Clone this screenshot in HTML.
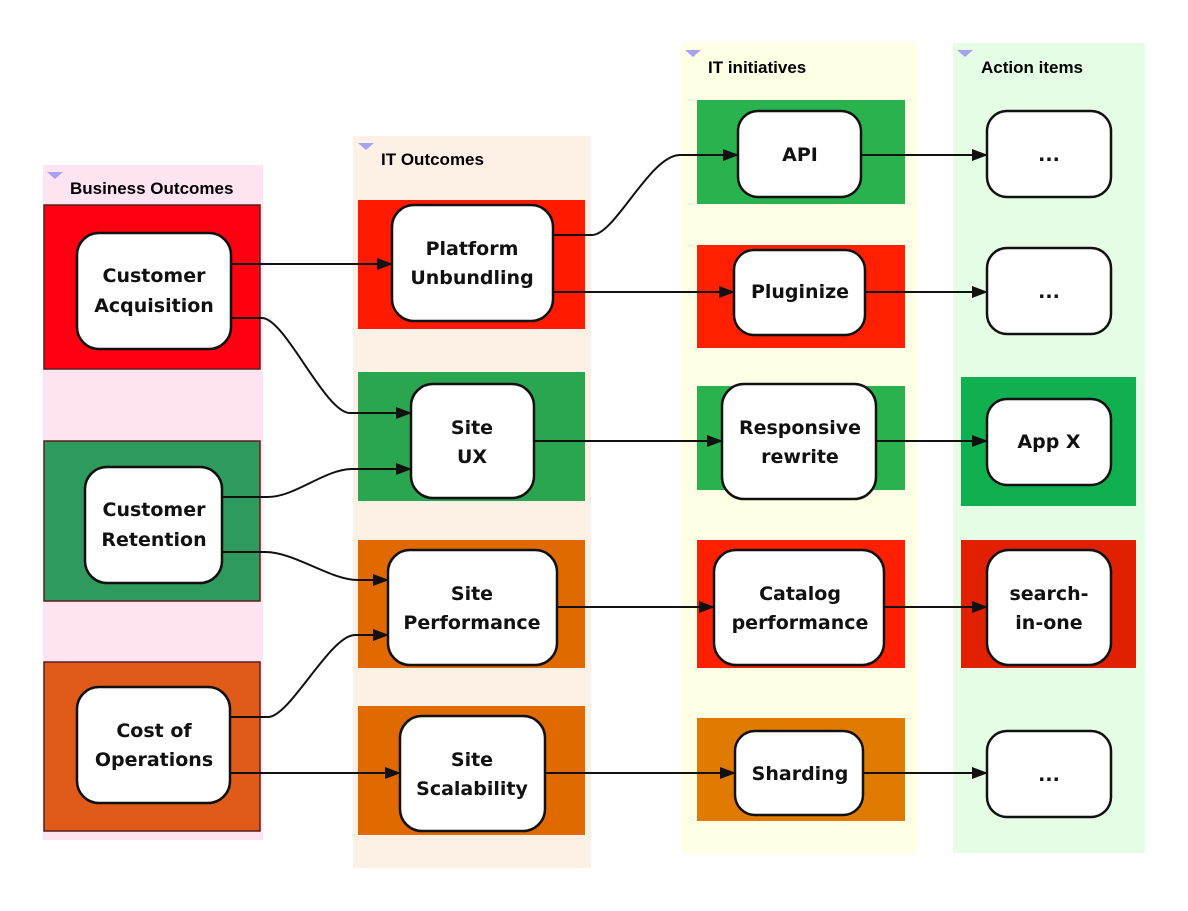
<!DOCTYPE html>
<html><head><meta charset="utf-8"><style>
html,body{margin:0;padding:0;background:#fff;}
svg{display:block;}
.t{font-family:"DejaVu Sans","Liberation Sans",sans-serif;font-weight:bold;font-size:19px;fill:#111;text-anchor:middle;}
.h{font-family:"Liberation Sans",sans-serif;font-weight:bold;font-size:17px;fill:#000;}
.n{fill:#fff;stroke:#111;stroke-width:2.5;}
.c{fill:none;stroke:#111;stroke-width:2;marker-end:url(#a);}
</style></head><body>
<svg width="1188" height="911" viewBox="0 0 1188 911" xmlns="http://www.w3.org/2000/svg">
<defs><marker id="a" markerWidth="16" markerHeight="12" refX="15" refY="6" orient="auto" markerUnits="userSpaceOnUse"><path d="M0,0 L16,6 L0,12 Z" fill="#111"/></marker></defs>
<!-- lanes -->
<rect x="43" y="165" width="220" height="675" fill="#fde4f0"/>
<rect x="353" y="136" width="238" height="732" fill="#fdf0e4"/>
<rect x="681" y="43" width="236" height="810" fill="#ffffe6"/>
<rect x="953" y="43" width="192" height="810" fill="#e4fde4"/>
<path d="M47,172 L63,172 L55,179 Z" fill="#a8a0f0"/>
<path d="M358,143 L374,143 L366,150 Z" fill="#a8a0f0"/>
<path d="M685,50 L701,50 L693,57 Z" fill="#a8a0f0"/>
<path d="M957,50 L973,50 L965,57 Z" fill="#a8a0f0"/>
<text class="h" x="70" y="194">Business Outcomes</text>
<rect x="263" y="170" width="10" height="40" fill="#fff"/>
<text class="h" x="381" y="165">IT Outcomes</text>
<text class="h" x="708" y="73">IT initiatives</text>
<text class="h" x="981" y="73">Action items</text>
<!-- colored boxes -->
<rect x="44" y="205" width="216" height="164" fill="#ff0010" stroke="#5a2020" stroke-width="1.5"/>
<rect x="44" y="441" width="216" height="160" fill="#2e9a5e" stroke="#5a2020" stroke-width="1.5"/>
<rect x="44" y="662" width="216" height="169" fill="#e05a1a" stroke="#5a2020" stroke-width="1.5"/>
<rect x="358" y="200" width="227" height="129" fill="#ff1a00"/>
<rect x="358" y="372" width="227" height="129" fill="#2aa650"/>
<rect x="358" y="540" width="227" height="128" fill="#e06a00"/>
<rect x="358" y="706" width="227" height="129" fill="#e06a00"/>
<rect x="697" y="100" width="208" height="104" fill="#2ab24e"/>
<rect x="697" y="245" width="208" height="103" fill="#ff2000"/>
<rect x="697" y="386" width="208" height="104" fill="#2ab24e"/>
<rect x="697" y="540" width="208" height="128" fill="#ff2000"/>
<rect x="697" y="718" width="208" height="103" fill="#e07a00"/>
<rect x="961" y="377" width="175" height="129" fill="#10b050"/>
<rect x="961" y="540" width="175" height="128" fill="#e02000"/>
<!-- connectors -->
<path class="c" d="M231,264 H392"/>
<path class="c" d="M231,318 H262 C285,318 325,413 350,413 H411"/>
<path class="c" d="M222,497 H268 C295,497 325,469 352,469 H411"/>
<path class="c" d="M222,552 H265 C295,552 330,580 358,580 H388"/>
<path class="c" d="M230,717 H268 C290,717 330,635 355,635 H388"/>
<path class="c" d="M230,773 H400"/>
<path class="c" d="M553,235 H592 C615,235 650,155 680,155 H738"/>
<path class="c" d="M553,292 H734"/>
<path class="c" d="M534,441 H722"/>
<path class="c" d="M557,607 H714"/>
<path class="c" d="M545,773 H735"/>
<path class="c" d="M861,155 H987"/>
<path class="c" d="M865,292 H987"/>
<path class="c" d="M876,441 H987"/>
<path class="c" d="M884,607 H987"/>
<path class="c" d="M863,773 H987"/>
<!-- nodes -->
<rect class="n" x="77" y="233" width="154" height="116" rx="22"/>
<text class="t" x="154" y="282">Customer</text><text class="t" x="154" y="312">Acquisition</text>
<rect class="n" x="85" y="467" width="137" height="116" rx="22"/>
<text class="t" x="154" y="516">Customer</text><text class="t" x="154" y="546">Retention</text>
<rect class="n" x="77" y="687" width="153" height="116" rx="22"/>
<text class="t" x="154" y="737">Cost of</text><text class="t" x="154" y="766">Operations</text>
<rect class="n" x="392" y="205" width="161" height="116" rx="22"/>
<text class="t" x="472" y="255">Platform</text><text class="t" x="472" y="284">Unbundling</text>
<rect class="n" x="411" y="384" width="123" height="114" rx="22"/>
<text class="t" x="472" y="434">Site</text><text class="t" x="472" y="463">UX</text>
<rect class="n" x="388" y="550" width="169" height="115" rx="22"/>
<text class="t" x="472" y="600">Site</text><text class="t" x="472" y="629">Performance</text>
<rect class="n" x="400" y="716" width="145" height="115" rx="22"/>
<text class="t" x="472" y="766">Site</text><text class="t" x="472" y="795">Scalability</text>
<rect class="n" x="738" y="111" width="123" height="86" rx="20"/>
<text class="t" x="800" y="161">API</text>
<rect class="n" x="734" y="250" width="131" height="85" rx="20"/>
<text class="t" x="800" y="298">Pluginize</text>
<rect class="n" x="722" y="384" width="154" height="115" rx="22"/>
<text class="t" x="800" y="434">Responsive</text><text class="t" x="800" y="463">rewrite</text>
<rect class="n" x="714" y="550" width="170" height="115" rx="22"/>
<text class="t" x="800" y="600">Catalog</text><text class="t" x="800" y="629">performance</text>
<rect class="n" x="735" y="731" width="128" height="84" rx="20"/>
<text class="t" x="800" y="780">Sharding</text>
<rect class="n" x="987" y="111" width="124" height="86" rx="20"/>
<text class="t" x="1049" y="161">...</text>
<rect class="n" x="987" y="248" width="124" height="86" rx="20"/>
<text class="t" x="1049" y="298">...</text>
<rect class="n" x="987" y="399" width="124" height="86" rx="20"/>
<text class="t" x="1049" y="448">App X</text>
<rect class="n" x="987" y="550" width="124" height="115" rx="22"/>
<text class="t" x="1049" y="600">search-</text><text class="t" x="1049" y="629">in-one</text>
<rect class="n" x="987" y="731" width="124" height="86" rx="20"/>
<text class="t" x="1049" y="781">...</text>
</svg>
</body></html>
